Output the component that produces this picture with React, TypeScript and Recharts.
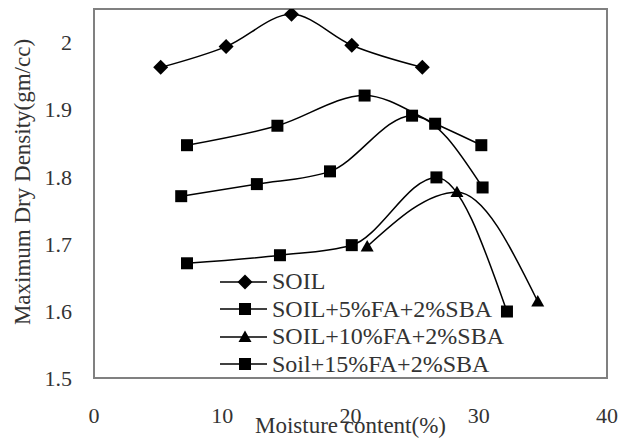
import {
  LineChart,
  Line,
  XAxis,
  YAxis,
  Legend,
  ReferenceArea,
} from 'recharts'

// moisture content (%) / max dry density (gm/cc)
const soilX = [5.2, 10.3, 15.4, 20.1, 25.6]
const soilY = [1.963, 1.994, 2.042, 1.996, 1.963]

const fa5X = [7.25, 14.3, 21.1, 26.6, 30.2]
const fa5Y = [1.847, 1.876, 1.921, 1.879, 1.847]

const midX = [6.8, 12.7, 18.4, 24.8, 30.3]
const midY = [1.771, 1.789, 1.808, 1.891, 1.784]

const fa15X = [7.25, 14.5, 20.1, 26.7, 32.2]
const fa15Y = [1.671, 1.683, 1.698, 1.799, 1.599]

const fa10X = [21.3, 28.3, 34.6]
const fa10Y = [1.696, 1.777, 1.614]

const xTicks = [0, 10, 20, 30, 40]
const yTicks = [1.5, 1.6, 1.7, 1.8, 1.9, 2]

const legendItems = [
  { name: 'SOIL', marker: 'diamond' },
  { name: 'SOIL+5%FA+2%SBA', marker: 'square' },
  { name: 'SOIL+10%FA+2%SBA', marker: 'triangle' },
  { name: 'Soil+15%FA+2%SBA', marker: 'square' },
]

const toPoints = (xs: number[], ys: number[]) =>
  xs.map((x, i) => ({ x, y: ys[i] }))

const FONT = '"Liberation Serif", "Times New Roman", serif'
const TEXT = '#333'

const markerPath = (kind: string, cx: number, cy: number) => {
  if (kind === 'diamond') {
    const r = 7.5
    return `M${cx},${cy - r}L${cx + r},${cy}L${cx},${cy + r}L${cx - r},${cy}Z`
  }
  if (kind === 'triangle') {
    const r = 6.5
    return `M${cx},${cy - r}L${cx + r},${cy + r * 0.75}L${cx - r},${cy + r * 0.75}Z`
  }
  const s = 6
  return `M${cx - s},${cy - s}h${2 * s}v${2 * s}h${-2 * s}Z`
}

const makeDot = (kind: string) => (props: any) => {
  const { cx, cy, index } = props
  if (cx == null || cy == null) return <g key={`d-${index}`} />
  return <path key={`d-${kind}-${index}`} d={markerPath(kind, cx, cy)} fill="#000" />
}

const renderLegend = () => (
  <div style={{ fontFamily: FONT, fontSize: 24, color: TEXT }}>
    {legendItems.map((item) => (
      <div
        key={item.name}
        style={{ display: 'flex', alignItems: 'center', height: 27.5, whiteSpace: 'nowrap' }}
      >
        <svg width={52} height={20} style={{ display: 'block' }}>
          <line x1={0} y1={10} x2={47} y2={10} stroke="#000" strokeWidth={1.5} />
          <path d={markerPath(item.marker, 25, 10)} fill="#000" />
        </svg>
        <span>{item.name}</span>
      </div>
    ))}
  </div>
)

const YTitle = () => (
  <text
    x={22}
    y={182}
    transform="rotate(-90 22 182)"
    textAnchor="middle"
    dominantBaseline="central"
    fontFamily={FONT}
    fontSize={23}
    fill={TEXT}
  >
    Maximum Dry Density(gm/cc)
  </text>
)

const series = [
  { id: 'soil', data: toPoints(soilX, soilY), marker: 'diamond' },
  { id: 'fa5', data: toPoints(fa5X, fa5Y), marker: 'square' },
  { id: 'mid', data: toPoints(midX, midY), marker: 'square' },
  { id: 'fa15', data: toPoints(fa15X, fa15Y), marker: 'square' },
  { id: 'fa10', data: toPoints(fa10X, fa10Y), marker: 'triangle' },
]

export default function App() {
  return (
    <div
      style={{
        position: 'absolute',
        left: 0,
        top: 0,
        width: 620,
        height: 438,
        background: '#fff',
        fontFamily: FONT,
      }}
    >
      <LineChart
        width={620}
        height={438}
        margin={{ top: 9, right: 13, bottom: 0, left: 0 }}
      >
        <XAxis
          type="number"
          dataKey="x"
          domain={[0, 40]}
          ticks={xTicks}
          allowDataOverflow
          height={60}
          stroke="#808080"
          strokeWidth={2}
          tickLine={false}
          tickSize={0}
          tickMargin={29}
          tick={{ fill: TEXT, fontSize: 22, fontFamily: FONT }}
          label={{
            value: 'Moisture content(%)',
            position: 'insideBottom',
            offset: 5,
            fill: TEXT,
            fontSize: 23,
            fontFamily: FONT,
          }}
        />
        <YAxis
          type="number"
          dataKey="y"
          domain={[1.5, 2.05]}
          ticks={yTicks}
          allowDataOverflow
          width={94}
          stroke="#808080"
          strokeWidth={2}
          tickLine={false}
          tickSize={0}
          tickMargin={22}
          tick={{ fill: TEXT, fontSize: 22, fontFamily: FONT }}
          label={{ content: <YTitle /> }}
        />
        <ReferenceArea
          x1={0}
          x2={40}
          y1={1.5}
          y2={2.05}
          fill="none"
          stroke="#808080"
          strokeWidth={2}
          ifOverflow="visible"
        />
        {series.map((s) => (
          <Line
            key={s.id}
            data={s.data}
            dataKey="y"
            type="monotone"
            stroke="#000"
            strokeWidth={1.5}
            dot={makeDot(s.marker)}
            activeDot={false}
            legendType="none"
            isAnimationActive={false}
          />
        ))}
        <Legend
          layout="vertical"
          align="center"
          verticalAlign="middle"
          content={renderLegend}
          wrapperStyle={{ left: 220, top: 268, width: 'auto' }}
        />
      </LineChart>
    </div>
  )
}
